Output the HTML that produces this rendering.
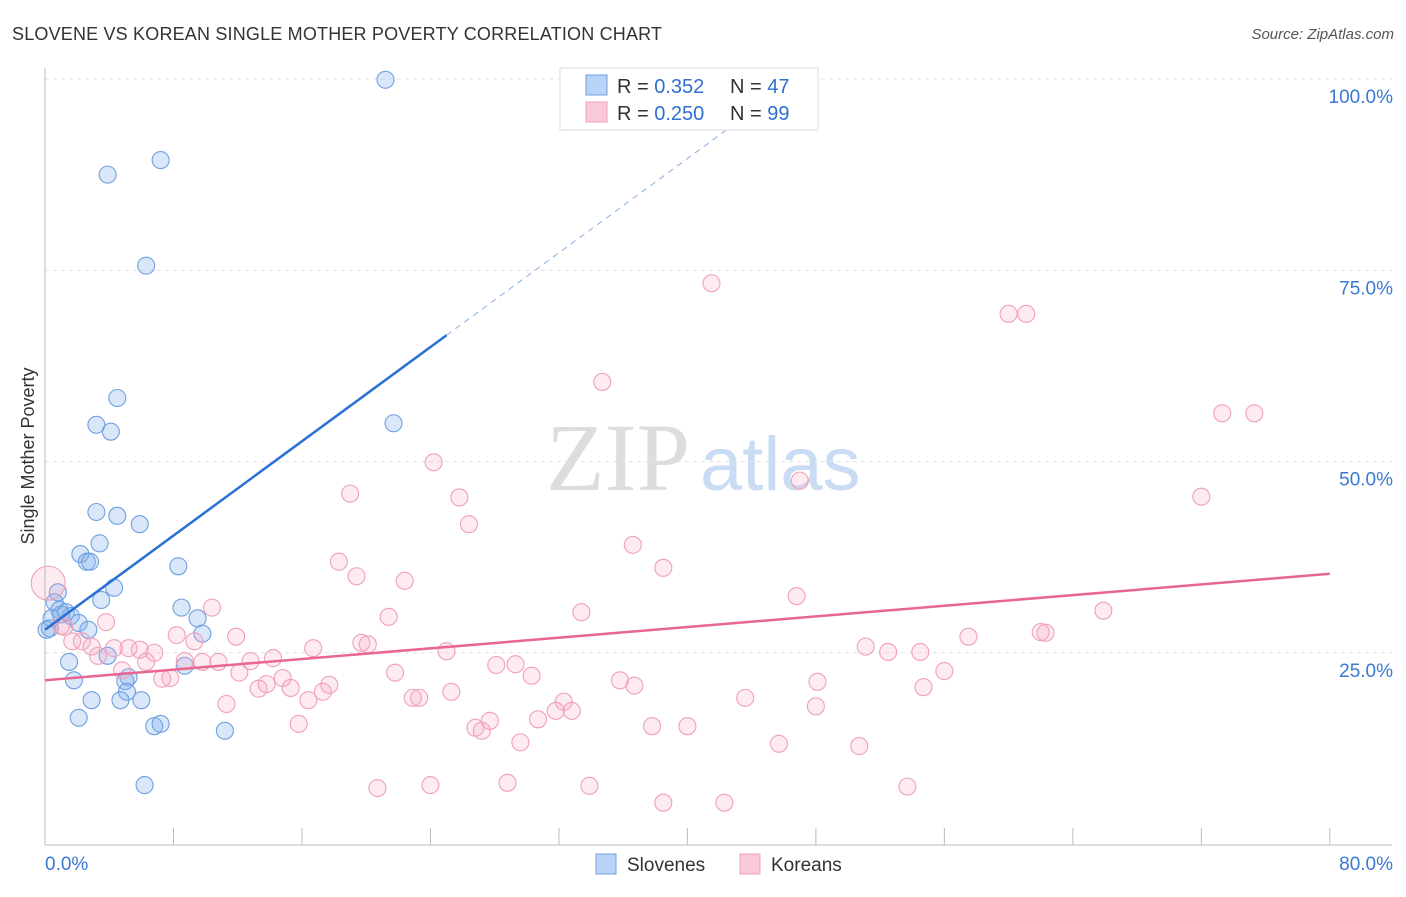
<!DOCTYPE html>
<html><head><meta charset="utf-8"><style>
body{margin:0;background:#fff;font-family:"Liberation Sans",sans-serif}
</style></head><body>
<svg width="1406" height="892" xmlns="http://www.w3.org/2000/svg" font-family="Liberation Sans, sans-serif">
<text x="12" y="40" font-size="18" fill="#333" textLength="650">SLOVENE VS KOREAN SINGLE MOTHER POVERTY CORRELATION CHART</text>
<text x="1394" y="39" font-size="15" fill="#555" text-anchor="end" font-style="italic">Source: ZipAtlas.com</text>
<g><text x="690" y="490" font-size="96" font-family="Liberation Serif, serif" fill="#ddd" text-anchor="end">ZIP</text><text x="700" y="490" font-size="76" fill="#c9dcf3" >atlas</text></g>
<g id="grid"></g>
<g id="axes"></g>
<g id="marks"></g>
<g>
<rect x="560" y="68" width="258" height="62" fill="#fff" stroke="#ddd"/>
<rect x="586" y="75" width="21" height="20" fill="#b8d3f5" stroke="#6fa0e0"/>
<text x="617" y="93" font-size="20" fill="#333">R = <tspan fill="#2f6fd0">0.352</tspan></text>
<text x="730" y="93" font-size="20" fill="#333">N = <tspan fill="#2f6fd0">47</tspan></text>
<rect x="586" y="102" width="21" height="20" fill="#f9cad7" stroke="#f0a0b8"/>
<text x="617" y="120" font-size="20" fill="#333">R = <tspan fill="#2f6fd0">0.250</tspan></text>
<text x="730" y="120" font-size="20" fill="#333">N = <tspan fill="#2f6fd0">99</tspan></text>
</g>
<g>
<rect x="596" y="854" width="20" height="20" fill="#b8d3f5" stroke="#6fa0e0"/><text x="627" y="871" font-size="19" fill="#333">Slovenes</text>
<rect x="740" y="854" width="20" height="20" fill="#f9cad7" stroke="#f0a0b8"/><text x="771" y="871" font-size="19" fill="#333">Koreans</text>
</g>
<text transform="translate(34,456) rotate(-90)" font-size="18" fill="#333" text-anchor="middle">Single Mother Poverty</text>
</svg>
<script>
const blueX=[21.2,3.9,7.2,6.3,4.5,3.2,4.1,21.7,3.2,4.5,5.9,3.4,2.2,2.6,2.8,8.3,4.3,0.8,3.5,8.5,0.6,0.9,1.3,1.6,0.4,2.1,9.5,2.7,0.3,9.8,3.9,1.5,8.7,1.8,5.2,5.0,5.1,2.9,4.7,6.0,2.1,6.8,7.2,11.2,6.2,0.1,1.0];
const blueY=[99.9,87.5,89.4,75.6,58.3,54.8,53.9,55.0,43.4,42.9,41.8,39.3,37.9,36.9,36.9,36.3,33.5,32.9,31.9,30.9,31.6,30.6,30.3,29.8,29.5,28.9,29.5,28.0,28.2,27.5,24.6,23.8,23.3,21.4,21.8,21.3,19.9,18.8,18.8,18.8,16.5,15.4,15.7,14.8,7.7,28.0,30.0];
const pinkX=[41.5,60.0,61.1,34.7,73.3,75.3,24.2,47.0,72.0,19.0,25.8,26.4,36.6,18.3,38.5,19.4,22.4,46.8,65.9,33.4,10.4,21.4,3.8,1.2,62.0,62.3,57.5,8.2,11.9,1.7,2.3,9.3,19.7,20.1,2.9,4.3,5.2,5.9,6.8,16.7,25.0,51.1,52.5,54.5,3.3,14.2,6.3,8.7,9.8,10.8,12.8,28.1,29.3,4.8,12.1,21.8,30.3,56.0,7.3,7.8,14.8,35.8,13.8,15.3,17.7,36.7,48.1,13.3,17.3,25.3,54.7,16.4,22.9,23.3,43.6,11.3,32.3,32.8,31.8,48.0,30.7,27.7,15.8,26.8,27.2,37.8,40.0,29.6,45.7,50.7,20.7,24.0,28.8,33.9,53.7,38.5,42.3,0.2,1.0];
const pinkY=[73.3,69.3,69.3,60.4,56.3,56.3,49.9,47.5,45.4,45.8,45.3,41.8,39.1,36.9,36.1,35.0,34.4,32.4,30.5,30.3,30.9,29.7,29.0,28.4,27.7,27.6,27.1,27.3,27.1,26.5,26.5,26.5,26.3,26.1,25.8,25.6,25.6,25.4,25.0,25.6,25.2,25.8,25.1,25.1,24.6,24.3,23.8,23.9,23.8,23.8,23.9,23.4,23.5,22.7,22.4,22.4,22.0,22.6,21.6,21.7,21.7,21.4,20.9,20.4,20.8,20.7,21.2,20.3,19.9,19.9,20.5,18.8,19.1,19.1,19.1,18.3,18.6,17.4,17.4,18.0,16.3,16.1,15.7,15.2,14.8,15.4,15.4,13.3,13.1,12.8,7.3,7.7,8.0,7.6,7.5,5.4,5.4,34.1,28.5];
const blueFit=[28.0,1.54];
const pinkFit=[21.4,0.174];
const yTicks=[25,50,75,100];
const xTickLabels=["0.0%","80.0%"];
const NS="http://www.w3.org/2000/svg";
const X=v=>45+v*16.06, Y=v=>844-v*7.65;
function mk(t,a,p){const e=document.createElementNS(NS,t);for(const k in a)e.setAttribute(k,a[k]);document.getElementById(p).appendChild(e);return e;}
yTicks.forEach(t=>{
 const l=mk('line',{x1:45,x2:1392,y1:Y(t),y2:Y(t),stroke:'#e2e2e2','stroke-dasharray':'4,4'},'grid');
 
 
 const tx=mk('text',{x:1393,y:Y(t)+24,'font-size':19,fill:'#3a78d4','text-anchor':'end'},'grid');tx.textContent=t.toFixed(1)+'%';
 
 
});
let a=mk('line',{x1:45,x2:45,y1:68,y2:845,stroke:'#bbb'},'axes');


a=mk('line',{x1:45,x2:1392,y1:845,y2:845,stroke:'#bbb'},'axes');


for(let i=1;i<=10;i++){const t=mk('line',{x1:X(i*8),x2:X(i*8),y1:828,y2:845,stroke:'#bbb'},'axes');
 
 }
[[0,'start'],[80,'end']].forEach((d,i)=>{const t=mk('text',{x:i?1393:45,y:870,'font-size':19,fill:'#3a78d4','text-anchor':d[1]},'axes');t.textContent=xTickLabels[i];
 
 });
blueX.forEach((v,i)=>{const c=mk('circle',{cx:X(v),cy:Y(blueY[i]),r:8.5,fill:'rgba(130,175,235,0.3)',stroke:'#6fa0e0','stroke-width':1.1},'marks');
 
 });
pinkX.forEach((v,i)=>{const c=mk('circle',{cx:X(v),cy:Y(pinkY[i]),r:i==97?17:8.5,fill:'rgba(245,165,190,0.22)',stroke:'#f0a0b8','stroke-width':1.1},'marks');
 
 });
let l=mk('line',{x1:X(0),y1:Y(blueFit[0]),x2:X(25),y2:Y(blueFit[0]+25*blueFit[1]),stroke:'#2a6fd6','stroke-width':2.5},'marks');


const xe=(100-blueFit[0])/blueFit[1];
l=mk('line',{x1:X(25),y1:Y(blueFit[0]+25*blueFit[1]),x2:X(xe),y2:Y(100),stroke:'#8ab0e0','stroke-width':1,'stroke-dasharray':'6,5'},'marks');


l=mk('line',{x1:X(0),y1:Y(pinkFit[0]),x2:X(80),y2:Y(pinkFit[0]+80*pinkFit[1]),stroke:'#e8668f','stroke-width':2.5},'marks');


</script>
</body></html>
